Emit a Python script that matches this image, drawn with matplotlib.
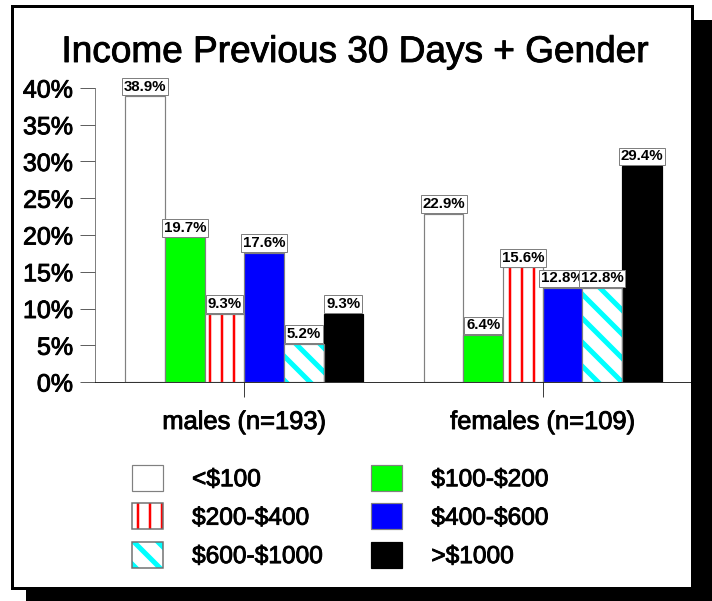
import matplotlib
matplotlib.use('Agg')
import matplotlib.pyplot as plt
import matplotlib.patheffects as pe
from matplotlib.patches import Rectangle, Patch
from matplotlib.legend_handler import HandlerTuple
import numpy as np

plt.rcParams['font.family'] = ['Liberation Sans', 'DejaVu Sans']

# data
groups = ['males (n=193)', 'females (n=109)']
brackets = ['<$100', '$100-$200', '$200-$400', '$400-$600', '$600-$1000', '>$1000']
lt100 = [38.9, 22.9]
s100_200 = [19.7, 6.4]
s200_400 = [9.3, 15.6]
s400_600 = [17.6, 12.8]
s600_1000 = [5.2, 12.8]
gt1000 = [9.3, 29.4]
series = [lt100, s100_200, s200_400, s400_600, s600_1000, gt1000]
yticks = [0, 5, 10, 15, 20, 25, 30, 35, 40]

# look of each series: facecolor, hatch, hatch colour, hatch width
styles = [
    ('white', None, None, 0),
    ('#00ff00', None, None, 0),
    ('white', '|', 'red', 2.5),
    ('#0000ff', None, None, 0),
    ('white', '\\', '#00ffff', 5.0),
    ('black', None, None, 0),
]
hatch_lw = {'|': 2.5, '\\': 5.0}
heavy = [pe.withStroke(linewidth=0.9, foreground='black')]

W, H = 712, 601
fig = plt.figure(figsize=(W / 72, H / 72), dpi=72, facecolor='white')

# drop shadow + frame
fig.patches.append(Rectangle((26 / W, 0), (712 - 26) / W, (601 - 20) / H,
                             transform=fig.transFigure, fc='black', ec='none', zorder=0))
fig.patches.append(Rectangle((12 / W, (601 - 588) / H), 680 / W, 582 / H,
                             transform=fig.transFigure, fc='white', ec='black', lw=3, zorder=1))

ax = fig.add_axes([95 / W, (601 - 382) / H, (692 - 95) / W, (382 - 88) / H])
ax.set_zorder(3)
ax.set_facecolor('none')

x = np.arange(len(groups))
w = 0.1328
handles = []
for i, (vals, (fc, hatch, hc, hlw)) in enumerate(zip(series, styles)):
    pos = x + (i - 2.5) * w
    if hatch:
        with plt.rc_context({'hatch.linewidth': hlw}):
            hb = ax.bar(pos, vals, w, color=fc, edgecolor=hc, hatch=hatch, linewidth=0, zorder=2)
            for p in hb:
                if hasattr(p, 'set_hatch_linewidth'):
                    p.set_hatch_linewidth(hlw)
        ax.bar(pos, vals, w, fill=False, edgecolor='#808080', linewidth=1.2, zorder=3)
        handles.append((Patch(facecolor=fc, edgecolor=hc, hatch=hatch, linewidth=0),
                        Patch(facecolor='none', edgecolor='#707070', linewidth=1.5)))
    else:
        b = ax.bar(pos, vals, w, color=fc, edgecolor='#808080' if fc != 'black' else 'black',
                   linewidth=1.2, zorder=2)
        handles.append(b[0])

# value labels
for i, vals in enumerate(series):
    pos = x + (i - 2.5) * w
    for px, v in zip(pos, vals):
        ax.annotate(f'{v}%', xy=(px, v), xytext=(0, 2.5), textcoords='offset points',
                    ha='center', va='bottom', fontsize=15, fontweight='bold', zorder=5 + i,
                    bbox=dict(boxstyle='square,pad=0.12', fc='white', ec='#808080', lw=1))

ax.set_xlim(-0.5, 1.5)
ax.set_ylim(0, 40)
ax.set_yticks(yticks)
ax.set_yticklabels([f'{t}%' for t in yticks], fontsize=25)
ax.set_xticks(x)
ax.set_xticklabels(groups, fontsize=25.5)
ax.tick_params(axis='y', direction='out', length=15, width=1, color='#606060', pad=7)
ax.tick_params(axis='x', direction='out', length=15, width=1, color='#404040', pad=13)
for t in ax.get_xticklabels() + ax.get_yticklabels():
    t.set_path_effects(heavy)
for s in ['top', 'right']:
    ax.spines[s].set_visible(False)
ax.spines['left'].set_color('#606060')
ax.spines['left'].set_bounds(0, 40)
ax.spines['bottom'].set_color('black')

fig.text(355 / W, (601 - 62) / H, 'Income Previous 30 Days + Gender',
         ha='center', va='baseline', fontsize=37, path_effects=heavy)

order = [0, 2, 4, 1, 3, 5]
leg = fig.legend([handles[k] for k in order], [brackets[k].replace('$', r'\$') for k in order],
                 ncol=2, loc='upper left', bbox_to_anchor=(132 / W, (601 - 465) / H),
                 frameon=False, fontsize=24.5, handlelength=1.25, handleheight=1.25,
                 handletextpad=1.2, columnspacing=1.95, labelspacing=0.5, borderpad=0,
                 borderaxespad=0, handler_map={tuple: HandlerTuple(ndivide=1)})
leg.set_zorder(4)
for t in leg.get_texts():
    t.set_path_effects(heavy)
for r in leg.findobj(Rectangle):
    hb = r.get_hatch()
    if hb in hatch_lw and hasattr(r, 'set_hatch_linewidth'):
        r.set_hatch_linewidth(hatch_lw[hb])

fig.savefig('out.png', dpi=72, facecolor='white')
